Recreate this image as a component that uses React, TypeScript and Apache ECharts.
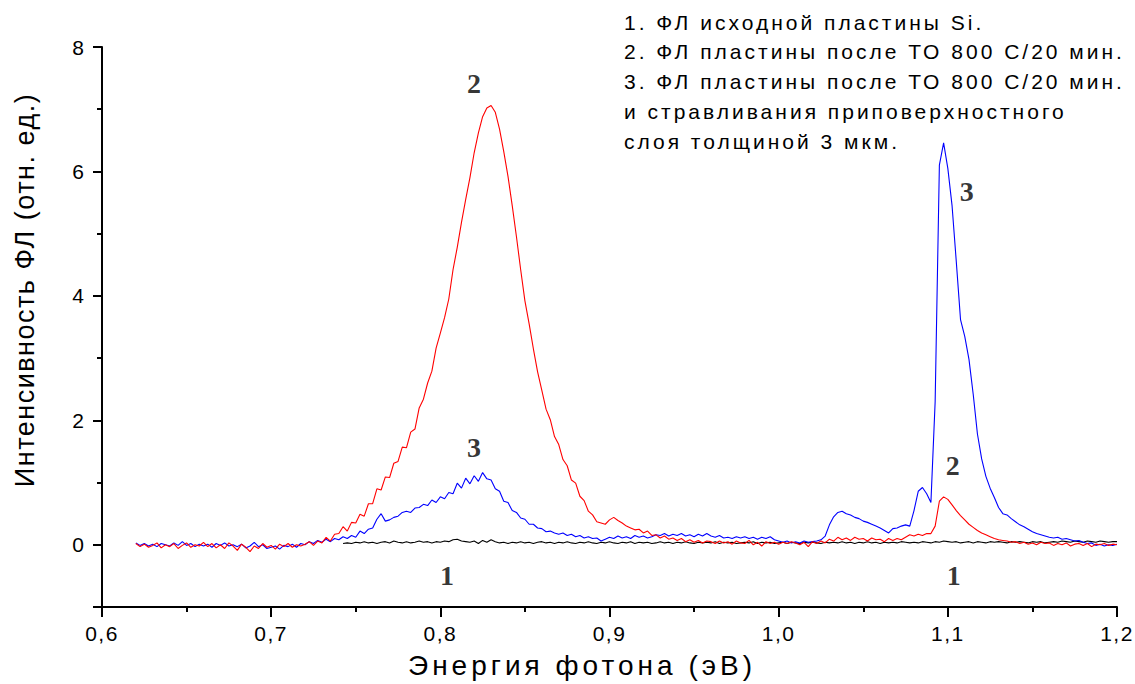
import React, { useEffect, useRef } from "react";
import * as echarts from "echarts";

// Sampling of the spectra (eV)
const ENERGY_START = 0.62;
const BLACK_START = 0.7425;
const ENERGY_STEP = 0.0025;

// Curve 1: initial Si wafer (starts at 0.7425 eV)
const curve1 = [
  0.02, 0.03, 0.02,
  0.04, 0.03, 0.05, 0.03,
  0.04, 0.02, 0.04, 0.05,
  0.03, 0.06, 0.04, 0.03,
  0.05, 0.03, 0.04, 0.06,
  0.04, 0.05, 0.03, 0.05,
  0.04, 0.06, 0.05, 0.08,
  0.09, 0.06, 0.05, 0.04,
  0.06, 0.02, 0.07, 0.04,
  0.08, 0.05, 0.03, 0.04,
  0.02, 0.04, 0.03, 0.05,
  0.03, 0.04, 0.02, 0.04,
  0.05, 0.03, 0.04, 0.02,
  0.04, 0.03, 0.05, 0.03,
  0.02, 0.04, 0.03, 0.05,
  0.03, 0.02, 0.04, 0.03,
  0.05, 0.03, 0.02, 0.04,
  0.03, 0.05, 0.02, 0.04,
  0.03, 0.04, 0.02, 0.03,
  0.05, 0.03, 0.04, 0.02,
  0.04, 0.03, 0.05, 0.03,
  0.02, 0.04, 0.03, 0.04,
  0.03, 0.05, 0.02, 0.04,
  0.03, 0.04, 0.02, 0.03,
  0.04, 0.03, 0.05, 0.02,
  0.04, 0.03, 0.04, 0.02,
  0.03, 0.04, 0.02, 0.04,
  0.03, 0.02, 0.04, 0.03,
  0.04, 0.03, 0.02, 0.04,
  0.03, 0.04, 0.03, 0.05,
  0.03, 0.04, 0.02, 0.04,
  0.03, 0.05, 0.03, 0.04,
  0.02, 0.04, 0.03, 0.04,
  0.03, 0.05, 0.04, 0.03,
  0.04, 0.03, 0.05, 0.04,
  0.03, 0.05, 0.04, 0.06,
  0.05, 0.04, 0.05, 0.03,
  0.04, 0.05, 0.03, 0.05,
  0.04, 0.03, 0.05, 0.04,
  0.05, 0.04, 0.03, 0.05,
  0.04, 0.05, 0.04, 0.03,
  0.05, 0.04, 0.05, 0.03,
  0.04, 0.05, 0.04, 0.06,
  0.05, 0.04, 0.06, 0.05,
  0.04, 0.06, 0.05, 0.04,
  0.06, 0.05, 0.04, 0.05,
  0.05,
];

// Curve 2: after heat treatment 800 C / 20 min
const curve2 = [
  0.02, -0.03, 0.01, -0.04,
  -0.01, 0.03, -0.05, 0.0,
  -0.03, 0.02, -0.06, -0.01,
  0.03, -0.04, 0.0, -0.02,
  0.04, -0.03, 0.02, -0.05,
  0.0, -0.06, 0.03, -0.02,
  -0.09, 0.01, -0.04, -0.11,
  -0.02, -0.06, 0.02, -0.04,
  -0.01, -0.07, 0.01, -0.03,
  0.02, -0.04, 0.0, -0.02,
  0.01, 0.05, -0.01, 0.06,
  0.03, 0.12, 0.06, 0.17,
  0.18, 0.29, 0.22, 0.36,
  0.35, 0.49, 0.46, 0.66,
  0.66, 0.9, 0.88, 1.09,
  1.08, 1.31, 1.34, 1.57,
  1.56, 1.81, 1.86, 2.2,
  2.34, 2.6, 2.79, 3.16,
  3.4, 3.65, 3.95, 4.42,
  4.78, 5.18, 5.55, 5.9,
  6.3, 6.62, 6.88, 7.02,
  7.06, 6.95, 6.68, 6.32,
  5.92, 5.45, 4.95, 4.42,
  3.92, 3.55, 3.15, 2.78,
  2.48, 2.18, 2.01, 1.74,
  1.61, 1.37, 1.27, 1.04,
  0.99, 0.78, 0.71, 0.54,
  0.48, 0.37, 0.35, 0.33,
  0.4, 0.44, 0.39, 0.35,
  0.3, 0.27, 0.24, 0.25,
  0.19, 0.22, 0.15, 0.16,
  0.11, 0.14, 0.09, 0.11,
  0.07, 0.1, 0.05, 0.08,
  0.04, 0.07, 0.03, 0.06,
  0.05, 0.02, 0.06, 0.03,
  0.05, 0.01, 0.06, 0.03,
  0.02, 0.07, 0.0, 0.04,
  -0.02, 0.05, 0.02, 0.04,
  0.01, 0.04, 0.02, 0.05,
  0.03, 0.0, 0.04, -0.03,
  0.05, 0.02, 0.06, 0.03,
  0.09, 0.06, 0.12, 0.08,
  0.11, 0.07, 0.12, 0.09,
  0.1, 0.06, 0.11, 0.08,
  0.09, 0.05, 0.1, 0.07,
  0.1, 0.08, 0.12, 0.16,
  0.14, 0.17, 0.15, 0.18,
  0.18, 0.3, 0.7, 0.77,
  0.73, 0.64, 0.55, 0.47,
  0.4, 0.33, 0.28, 0.23,
  0.19, 0.16, 0.13, 0.1,
  0.08, 0.07, 0.06, 0.04,
  0.05, 0.02, 0.04, 0.01,
  0.03, 0.0, 0.04, 0.02,
  0.03, -0.01, 0.02, 0.0,
  0.03, -0.02, 0.01, 0.02,
  -0.01, 0.02, -0.03, 0.01,
  0.0, 0.02, -0.01, 0.01,
  0.0,
];

// Curve 3: after heat treatment and etching of the 3 um surface layer
const curve3 = [
  0.03, -0.01, 0.02, -0.02,
  0.01, -0.03, 0.02, 0.0,
  -0.02, 0.03, -0.01, 0.05,
  -0.01, 0.02, -0.03, 0.01,
  -0.02, 0.01, -0.04, 0.02,
  -0.01, 0.03, -0.02, 0.0,
  -0.03, 0.01, -0.05, -0.02,
  0.04, -0.03, 0.0, -0.06,
  -0.04, -0.02, -0.07, -0.01,
  -0.03, 0.01, -0.04, 0.02,
  0.0, 0.05, 0.02, 0.07,
  0.04, 0.09, 0.05, 0.1,
  0.08, 0.13, 0.1, 0.15,
  0.12, 0.22, 0.18, 0.25,
  0.27, 0.41, 0.5, 0.38,
  0.4, 0.44, 0.46, 0.52,
  0.54, 0.52, 0.59, 0.6,
  0.65, 0.63, 0.72, 0.68,
  0.77, 0.74, 0.84, 0.82,
  0.99, 0.91, 1.07, 0.98,
  1.11, 1.02, 1.16, 1.06,
  1.04, 0.9, 0.86, 0.7,
  0.68, 0.55, 0.52, 0.43,
  0.41, 0.33, 0.33, 0.27,
  0.26, 0.21, 0.22, 0.19,
  0.17, 0.19, 0.15, 0.17,
  0.13, 0.15, 0.11, 0.13,
  0.1, 0.11, 0.06, 0.09,
  0.12, 0.1, 0.14, 0.11,
  0.13, 0.1, 0.15, 0.12,
  0.14, 0.11, 0.13, 0.16,
  0.15, 0.18, 0.14, 0.17,
  0.15, 0.18, 0.14, 0.16,
  0.13, 0.17, 0.14, 0.18,
  0.14, 0.12, 0.15, 0.11,
  0.12, 0.1, 0.13, 0.11,
  0.13, 0.1, 0.12, 0.09,
  0.12, 0.1, 0.13, 0.08,
  0.06, 0.04, 0.06, 0.03,
  0.05, 0.03, 0.06, 0.04,
  0.05, 0.06, 0.08, 0.14,
  0.32, 0.45, 0.52, 0.54,
  0.5, 0.48, 0.44, 0.42,
  0.38, 0.36, 0.33, 0.3,
  0.27, 0.23, 0.19, 0.26,
  0.27, 0.3, 0.32, 0.3,
  0.55, 0.86, 0.92, 0.82,
  0.68, 2.3, 6.1, 6.46,
  6.05, 5.45, 4.55, 3.62,
  3.35, 2.98, 2.42, 1.78,
  1.38, 1.1, 0.91, 0.76,
  0.6, 0.5, 0.48, 0.42,
  0.37, 0.32, 0.29, 0.25,
  0.21, 0.18, 0.16, 0.14,
  0.12, 0.11, 0.12, 0.09,
  0.1, 0.08, 0.06, 0.07,
  0.04, 0.02, 0.03, -0.01,
  0.01, -0.02, 0.0, -0.01,
  0.01,
];

// Axis ticks and labels
const yLabelValues = [0, 2, 4, 6, 8];
const yMajorTicks = [-1, 0, 2, 4, 6, 8];
const yMinorTicks = [1, 3, 5, 7];

const xTitle = "Энергия фотона (эВ)";
const yTitle = "Интенсивность ФЛ (отн. ед.)";

const legendLines = [
  "1. ФЛ исходной пластины Si.",
  "2. ФЛ пластины после ТО 800 С/20 мин.",
  "3. ФЛ пластины после ТО 800 С/20 мин.",
  "и стравливания приповерхностного",
  "слоя толщиной 3 мкм.",
];

// Curve numbers placed in data coordinates
const curveTags: [number, number, string][] = [
  [0.8199, 7.41, "2"],
  [0.8199, 1.57, "3"],
  [1.1112, 5.67, "3"],
  [1.1029, 1.27, "2"],
  [1.1035, -0.5, "1"],
  [0.8039, -0.5, "1"],
];

const SANS = '"Liberation Sans", Arial, Helvetica, sans-serif';
const SERIF = '"Liberation Serif", "Times New Roman", serif';

const toPairs = (start: number, vals: number[]) =>
  vals.map((v, i) => [Number((start + i * ENERGY_STEP).toFixed(4)), v]);

function letterSpacingFor(t: string): number {
  if (t === xTitle) return 4;
  if (t === yTitle) return 1.5;
  if (legendLines.includes(t)) return 3;
  if (/^\d,\d$/.test(t)) return 1.5;
  return 0;
}

export default function App() {
  const ref = useRef<HTMLDivElement>(null);

  useEffect(() => {
    if (!ref.current) return;
    const chart = echarts.init(ref.current, null, { renderer: "svg" });

    const lineSeries = (name: string, color: string, data: number[][]) => ({
      name,
      type: "line",
      data,
      showSymbol: false,
      symbol: "none",
      silent: true,
      lineStyle: { color, width: 1.1 },
      z: 3,
    });

    const legendGraphics = legendLines.map((t, i) => ({
      type: "text",
      x: 624,
      y: 22 + i * 29.8,
      silent: true,
      style: {
        text: t,
        font: `21px ${SANS}`,
        fill: "#000",
        textAlign: "left",
        textVerticalAlign: "middle",
        align: "left",
        verticalAlign: "middle",
      },
    }));

    chart.setOption({
      animation: false,
      backgroundColor: "#ffffff",
      grid: { left: 102, top: 47, width: 1015, height: 560, containLabel: false },
      xAxis: {
        type: "value",
        min: 0.6,
        max: 1.2,
        interval: 0.1,
        axisLine: { show: true, onZero: false, lineStyle: { color: "#000", width: 2 } },
        axisTick: { show: true, inside: false, length: 10, lineStyle: { color: "#000", width: 2 } },
        minorTick: { show: true, splitNumber: 2, length: 5, lineStyle: { color: "#000", width: 2 } },
        splitLine: { show: false },
        minorSplitLine: { show: false },
        axisLabel: {
          color: "#000",
          fontSize: 21,
          fontFamily: SANS,
          margin: 16,
          formatter: (v: number) => v.toFixed(1).replace(".", ","),
        },
      },
      yAxis: [
        {
          type: "value",
          min: -1,
          max: 8,
          interval: 1,
          axisLine: { show: true, onZero: false, lineStyle: { color: "#000", width: 2 } },
          axisTick: {
            show: true,
            inside: false,
            length: 9,
            customValues: yMajorTicks,
            lineStyle: { color: "#000", width: 2 },
          },
          axisLabel: {
            color: "#000",
            fontSize: 21,
            fontFamily: SANS,
            margin: 18,
            customValues: yLabelValues,
          },
          splitLine: { show: false },
        },
        {
          type: "value",
          position: "left",
          min: -1,
          max: 8,
          interval: 1,
          axisLine: { show: false, onZero: false },
          axisTick: {
            show: true,
            inside: false,
            length: 5,
            customValues: yMinorTicks,
            lineStyle: { color: "#000", width: 2 },
          },
          axisLabel: { show: false },
          splitLine: { show: false },
        },
      ],
      series: [
        lineSeries("1", "#000000", toPairs(BLACK_START, curve1)),
        lineSeries("3", "#0000ff", toPairs(ENERGY_START, curve3)),
        lineSeries("2", "#ff0000", toPairs(ENERGY_START, curve2)),
        {
          type: "scatter",
          silent: true,
          symbol: "circle",
          symbolSize: 1,
          itemStyle: { color: "rgba(0,0,0,0)" },
          data: curveTags.map(([x, y, t]) => ({ value: [x, y], name: t })),
          label: {
            show: true,
            position: "inside",
            formatter: (p: any) => p.name,
            color: "#000",
            fontFamily: SERIF,
            fontWeight: 700,
            fontSize: 28,
          },
          z: 5,
        },
      ],
      graphic: [
        {
          type: "text",
          x: 408,
          y: 665,
          silent: true,
          style: {
            text: xTitle,
            font: `28px ${SANS}`,
            fill: "#000",
            textAlign: "left",
            textVerticalAlign: "middle",
            align: "left",
            verticalAlign: "middle",
          },
        },
        {
          type: "text",
          x: 25,
          y: 290,
          rotation: Math.PI / 2,
          silent: true,
          style: {
            text: yTitle,
            font: `27px ${SANS}`,
            fill: "#000",
            textAlign: "center",
            textVerticalAlign: "middle",
            align: "center",
            verticalAlign: "middle",
          },
        },
        ...legendGraphics,
      ],
    });

    const applySpacing = () => {
      if (!ref.current) return;
      ref.current.querySelectorAll("text").forEach((el) => {
        const s = letterSpacingFor((el.textContent || "").trim());
        if (s) (el as SVGTextElement).style.letterSpacing = `${s}px`;
      });
    };
    applySpacing();
    chart.on("finished", applySpacing);
    const raf = requestAnimationFrame(applySpacing);

    return () => {
      cancelAnimationFrame(raf);
      chart.dispose();
    };
  }, []);

  return (
    <div
      ref={ref}
      style={{ position: "absolute", left: 0, top: 0, width: 1135, height: 684, background: "#fff" }}
    />
  );
}
